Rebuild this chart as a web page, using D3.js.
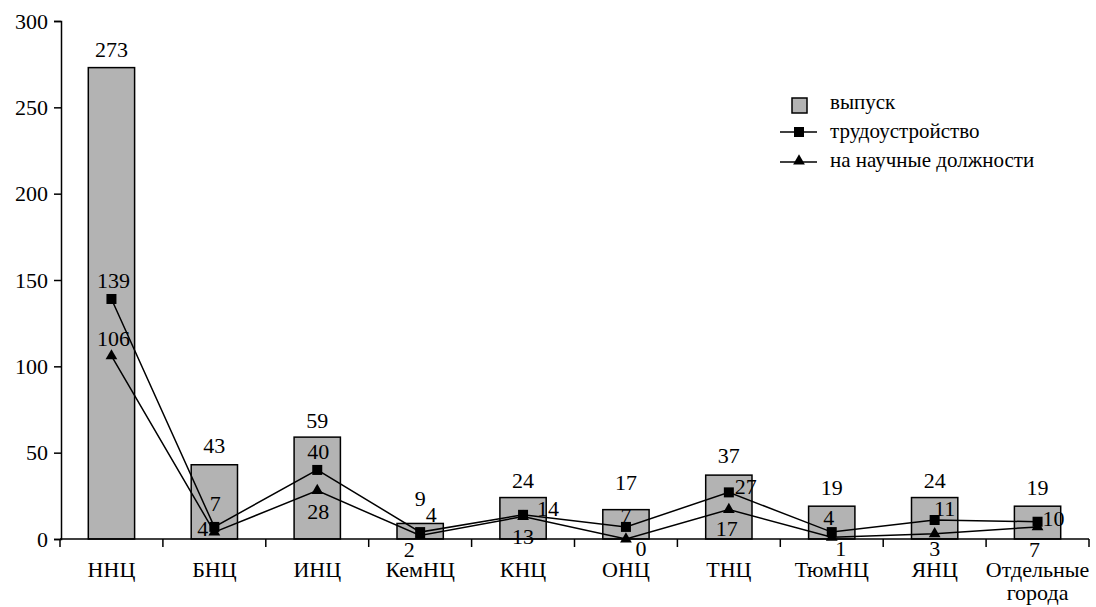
<!DOCTYPE html>
<html><head><meta charset="utf-8">
<script src="https://cdn.jsdelivr.net/npm/d3@7"></script>
<style>body{margin:0;background:#fff}svg text{font-family:"Liberation Serif" !important}</style>
</head><body><svg id="c" width="1096" height="607" style="font-family:'Liberation Serif'"></svg>
<script>
const categories = ["ННЦ","БНЦ","ИНЦ","КемНЦ","КНЦ","ОНЦ","ТНЦ","ТюмНЦ","ЯНЦ","Отдельные города"];
const graduates = [273,43,59,9,24,17,37,19,24,19];
const employed = [139,7,40,4,14,7,27,4,11,10];
const scientific = [106,4,28,2,13,0,17,1,3,7];
const yTicks = [0,50,100,150,200,250,300];
const seriesNames = ["выпуск","трудоустройство","на научные должности"];
// label placement offsets (style only): [dx, dy, anchor]
const graduatesLabelDy = [-11,-12,-9,-17,-10,-20,-12,-11,-10,-11];
const employedLabelPos = [[2,-11,"middle"],[1,-16,"middle"],[1,-11,"middle"],[11,-10,"middle"],[14,1,"start"],[0,-4,"middle"],[6,2,"start"],[-3,-7,"middle"],[10,-4,"middle"],[5,4,"start"]];
const scientificLabelPos = [[2,-10,"middle"],[-6,4,"end"],[1,28,"middle"],[-11,21,"middle"],[0,27,"middle"],[15,17,"middle"],[-2,26,"middle"],[9,19,"middle"],[0,22,"middle"],[-3,30,"middle"]];

const FONT = "Liberation Serif";
const FS = 22;
const svg = d3.select("#c");
const x = d3.scaleBand().domain(categories).range([60,1089]).paddingInner(0.55).paddingOuter(0.275);
const y = d3.scaleLinear().domain([0,300]).range([539,21]);
function ff(sel){ return sel.attr("font-family",FONT).style("font-family",FONT); }

// bars
svg.selectAll("rect.bar").data(graduates).join("rect").attr("class","bar")
  .attr("x",(d,i)=>x(categories[i])).attr("y",d=>y(d))
  .attr("width",x.bandwidth()).attr("height",d=>y(0)-y(d))
  .attr("fill","#b3b3b3").attr("stroke","#000").attr("stroke-width",1.5);

// axes
const yAxis = svg.append("g").attr("transform","translate(61,0)")
  .call(d3.axisLeft(y).tickValues(yTicks).tickSize(7).tickPadding(6));
ff(yAxis);
ff(yAxis.selectAll("text")).attr("font-size",FS).attr("fill","#000");
yAxis.selectAll("path,line").attr("stroke","#000").attr("stroke-width",1.5);

const xg = svg.append("g");
xg.append("line").attr("x1",60).attr("x2",1089).attr("y1",y(0)).attr("y2",y(0)).attr("stroke","#000").attr("stroke-width",1.5);
const step = x.step();
const bounds = d3.range(categories.length+1).map(i=>60+i*step);
xg.selectAll("line.tk").data(bounds).join("line").attr("class","tk")
  .attr("x1",d=>d).attr("x2",d=>d).attr("y1",y(0)).attr("y2",y(0)+8).attr("stroke","#000").attr("stroke-width",1.5);
ff(xg.selectAll("text.cat").data(categories).join("text").attr("class","cat"))
  .attr("text-anchor","middle").attr("font-size",FS)
  .attr("x",d=>x(d)+x.bandwidth()/2).attr("y",577)
  .each(function(d){
    const words = d.split(" ");
    const t = d3.select(this);
    words.forEach((w,k)=>t.append("tspan").attr("x",x(d)+x.bandwidth()/2).attr("dy",k?23:0).text(w));
  });

const cx = i => x(categories[i]) + x.bandwidth()/2;

// lines
const line = d3.line().x((d,i)=>cx(i)).y(d=>y(d));
svg.append("path").datum(employed).attr("d",line).attr("fill","none").attr("stroke","#000").attr("stroke-width",1.5);
svg.append("path").datum(scientific).attr("d",line).attr("fill","none").attr("stroke","#000").attr("stroke-width",1.5);

// markers
svg.selectAll("rect.sq").data(employed).join("rect").attr("class","sq")
  .attr("x",(d,i)=>cx(i)-5).attr("y",d=>y(d)-5).attr("width",10).attr("height",10).attr("fill","#000");
const tri = d3.symbol().type(d3.symbolTriangle).size(60);
svg.selectAll("path.tri").data(scientific).join("path").attr("class","tri")
  .attr("d",tri).attr("transform",(d,i)=>`translate(${cx(i)},${y(d)})`).attr("fill","#000");

// bar labels
ff(svg.selectAll("text.bl").data(graduates).join("text").attr("class","bl"))
  .attr("text-anchor","middle").attr("font-size",FS)
  .attr("x",(d,i)=>cx(i)).attr("y",(d,i)=>y(d)+graduatesLabelDy[i]).text(d=>d);

function place(cls, pos, vals){
  ff(svg.selectAll("text."+cls).data(vals).join("text").attr("class",cls)).attr("font-size",FS)
    .attr("x",(d,i)=>cx(i)+pos[i][0]).attr("y",(d,i)=>y(d)+pos[i][1])
    .attr("text-anchor",(d,i)=>pos[i][2]).text(d=>d);
}
place("el", employedLabelPos, employed);
place("sl", scientificLabelPos, scientific);

// legend
const lg = svg.append("g");
lg.append("rect").attr("x",792).attr("y",98).attr("width",15).attr("height",15).attr("fill","#b3b3b3").attr("stroke","#000").attr("stroke-width",1.5);
lg.append("line").attr("x1",780).attr("x2",817).attr("y1",132).attr("y2",132).attr("stroke","#000").attr("stroke-width",1.5);
lg.append("rect").attr("x",794).attr("y",127).attr("width",10).attr("height",10).attr("fill","#000");
lg.append("line").attr("x1",780).attr("x2",817).attr("y1",162).attr("y2",162).attr("stroke","#000").attr("stroke-width",1.5);
lg.append("path").attr("d",tri).attr("transform","translate(799,161)").attr("fill","#000");
ff(lg.selectAll("text.lt").data(seriesNames).join("text").attr("class","lt"))
  .attr("x",830).attr("y",(d,i)=>109+i*29).attr("font-size",21).text(d=>d);
</script></body></html>
